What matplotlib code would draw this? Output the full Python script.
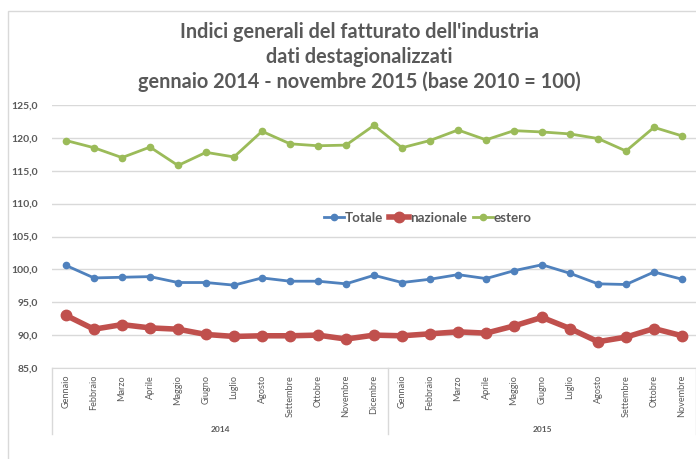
import matplotlib.pyplot as plt
from matplotlib.patches import Rectangle

mesi = ["Gennaio", "Febbraio", "Marzo", "Aprile", "Maggio", "Giugno", "Luglio",
        "Agosto", "Settembre", "Ottobre", "Novembre", "Dicembre",
        "Gennaio", "Febbraio", "Marzo", "Aprile", "Maggio", "Giugno", "Luglio",
        "Agosto", "Settembre", "Ottobre", "Novembre"]
anni = ["2014", "2015"]
mesi_per_anno = [12, 11]

totale = [100.6, 98.7, 98.8, 98.9, 98.0, 98.0, 97.6, 98.7, 98.2, 98.2, 97.8, 99.1,
          98.0, 98.5, 99.2, 98.6, 99.8, 100.7, 99.4, 97.8, 97.7, 99.6, 98.5]
nazionale = [93.0, 90.9, 91.6, 91.1, 90.9, 90.1, 89.8, 89.9, 89.9, 90.0, 89.4, 90.0,
             89.9, 90.2, 90.5, 90.3, 91.4, 92.7, 91.0, 89.0, 89.7, 91.0, 89.9]
estero = [119.6, 118.5, 117.0, 118.6, 115.8, 117.8, 117.1, 121.0, 119.1, 118.8, 118.9, 121.9,
          118.5, 119.6, 121.2, 119.7, 121.1, 120.9, 120.6, 119.9, 118.0, 121.6, 120.3]

plt.rcParams['font.family'] = ['Lato', 'DejaVu Sans']
grigio = "#595959"

fig = plt.figure(figsize=(6.96, 4.59), dpi=100)
fig.patches.append(Rectangle((8/696, -0.1), 1.2, 1 - 11/459 + 0.1, transform=fig.transFigure,
                             fill=False, edgecolor="#d9d9d9", linewidth=1))
ax = fig.add_axes([52/696, 1 - 368/459, 644/696, 263/459])

x = list(range(len(mesi)))
ax.plot(x, totale, color="#4F81BD", linewidth=2, marker="o", markersize=4.5, label="Totale")
ax.plot(x, nazionale, color="#C0504D", linewidth=4, marker="o", markersize=7.5, label="nazionale")
ax.plot(x, estero, color="#9BBB59", linewidth=2, marker="o", markersize=4.5, label="estero")

ax.set_xlim(-0.5, len(mesi) - 0.5)
ax.set_ylim(85, 125)
ax.set_yticks(range(85, 126, 5))
ax.set_yticklabels([f"{v},0" for v in range(85, 126, 5)], fontsize=7.5,
                   fontweight="bold", color=grigio)
ax.yaxis.grid(True, color="#d9d9d9", linewidth=1)
ax.set_axisbelow(True)
for s in ["top", "right", "left"]:
    ax.spines[s].set_visible(False)
ax.spines["bottom"].set_color("#d9d9d9")
ax.tick_params(axis="y", length=0, pad=10)
ax.tick_params(axis="x", length=0, pad=5)
ax.set_xticks(x)
ax.set_xticklabels(mesi, rotation=90, fontsize=6.6, color=grigio, va="top")

# separatori e etichette degli anni
trans = ax.get_xaxis_transform()
confine = -0.5
for anno, n in zip(anni, mesi_per_anno):
    ax.plot([confine, confine], [0, -0.25], transform=trans, color="#d9d9d9",
            linewidth=1, clip_on=False)
    ax.text(confine + n / 2, -0.235, anno, transform=trans, ha="center", va="center",
            fontsize=6, fontweight="bold", color=grigio)
    confine += n
ax.plot([confine, confine], [0, -0.25], transform=trans, color="#d9d9d9",
        linewidth=1, clip_on=False)

ax.legend(loc="center", bbox_to_anchor=(376/644, 1 - 113/263), ncol=3, frameon=False,
          handlelength=1.5, handletextpad=0.05, columnspacing=0.45,
          labelcolor=grigio, prop={"weight": "bold", "size": 9.6})

fig.text(359/696, 1 - 57/459,
         "Indici generali del fatturato dell'industria\ndati destagionalizzati\n"
         "gennaio 2014 - novembre 2015 (base 2010 = 100)",
         ha="center", va="center", fontsize=14.3, fontweight="bold", color=grigio,
         linespacing=1.3)

fig.savefig("out.png", dpi=100)
